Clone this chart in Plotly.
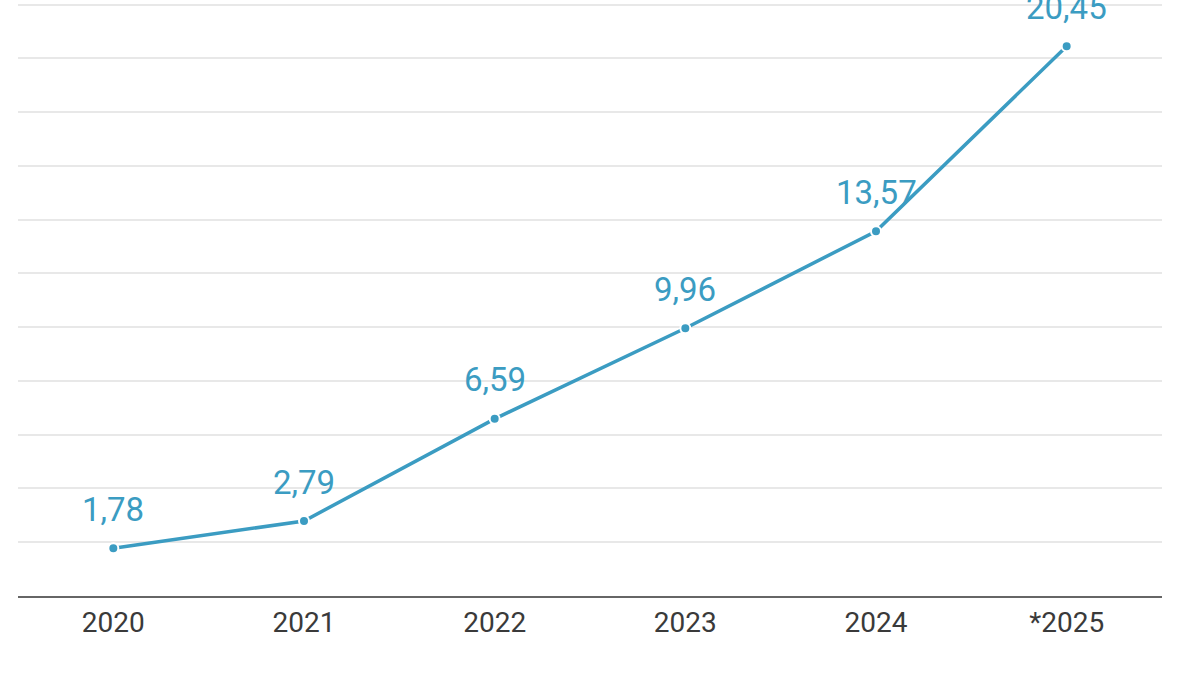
import plotly.graph_objects as go

years = ["2020", "2021", "2022", "2023", "2024", "*2025"]
values = [1.78, 2.79, 6.59, 9.96, 13.57, 20.45]

line_color = "#3b9cc2"

fig = go.Figure()
fig.add_trace(go.Scatter(
    x=years, y=values, mode="lines+markers",
    line=dict(color=line_color, width=3.5),
    marker=dict(size=10, color=line_color, line=dict(color="white", width=2)),
    cliponaxis=False,
    hoverinfo="skip",
))

for i, v in enumerate(values):
    fig.add_annotation(
        x=i, y=v, text=f"{v:.2f}".replace(".", ","),
        showarrow=False, yanchor="middle", yshift=39,
        font=dict(family="Roboto", size=33, color=line_color),
    )

fig.update_layout(
    width=1200, height=675,
    margin=dict(l=18, r=38, t=0, b=79),
    plot_bgcolor="white", paper_bgcolor="white",
    showlegend=False,
)
fig.update_xaxes(
    type="category", range=[-0.5, 5.5],
    showgrid=False, showline=True, linecolor="#666666", linewidth=2,
    ticks="", tickfont=dict(family="Roboto", size=28, color="#3a3a3a"),
)
fig.update_yaxes(
    range=[0, 22.17], dtick=2, showticklabels=False,
    showgrid=True, gridcolor="#e8e8e8", gridwidth=1.5, zeroline=False,
)

fig.write_html("out.html", config={"displayModeBar": False},
               post_script="document.body.style.margin='0';")
